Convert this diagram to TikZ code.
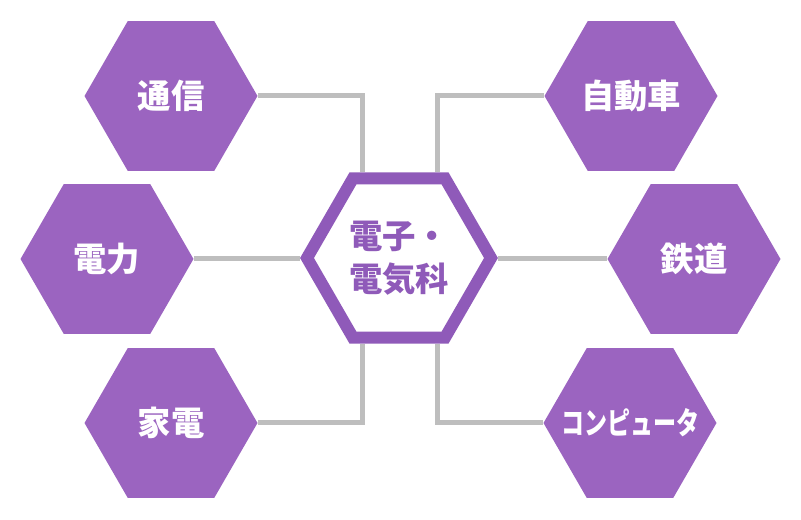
\documentclass[tikz,border=0pt]{standalone}
\usepackage{fontspec}
\setmainfont{Noto Sans CJK JP}
\usetikzlibrary{shapes.geometric,backgrounds}
\definecolor{hexpurple}{RGB}{155,100,192}
\definecolor{rimpurple}{RGB}{143,90,185}
\definecolor{linkgray}{RGB}{190,190,190}

\begin{document}
\begin{tikzpicture}[
            x=0.75pt, y=-0.75pt,
            hexa/.style={regular polygon, regular polygon sides=6,
                minimum size=129.75pt, inner sep=0pt, fill=hexpurple,
                text=white, font=\bfseries\fontsize{25}{30}\selectfont},
            core/.style={regular polygon, regular polygon sides=6,
                minimum size=138pt, inner sep=0pt, fill=white,
                draw=rimpurple, line width=9pt, text=rimpurple,
                align=center, font=\bfseries\fontsize{25}{32}\selectfont},
            link/.style={linkgray, line width=3.75pt}]

        \useasboundingbox (0,0) rectangle (801,520);

        \node[core] (denki) at (399,258) {電子・\\電気科};

        \node[hexa] (tsushin) at (171,96) {通信};
        \node[hexa] (denryoku) at (107,259) {電力};
        \node[hexa] (kaden) at (171,423) {家電};
        \node[hexa] (jidosha) at (631,96) {自動車};
        \node[hexa] (tetsudo) at (694,259) {鉄道};
        % narrow katakana, kept from widening the hexagon
        \node[hexa, font=\bfseries\fontsize{23}{26}\selectfont]
            (computer) at (630,423)
            {\makebox[0pt]{\addfontfeatures{FakeStretch=0.75}コンピュータ}};

        \begin{scope}[on background layer]
            \draw[link] (tsushin.east) -| ([xshift=-27.75pt]denki.north);
            \draw[link] (denryoku.east) -- (denryoku.east -| denki.west);
            \draw[link] (kaden.east) -| ([xshift=-27.75pt]denki.south);
            \draw[link] (jidosha.west) -| ([xshift=28.5pt]denki.north);
            \draw[link] (tetsudo.west) -- (tetsudo.west -| denki.east);
            \draw[link] (computer.west) -| ([xshift=28.5pt]denki.south);
        \end{scope}
    \end{tikzpicture}
\end{document}
